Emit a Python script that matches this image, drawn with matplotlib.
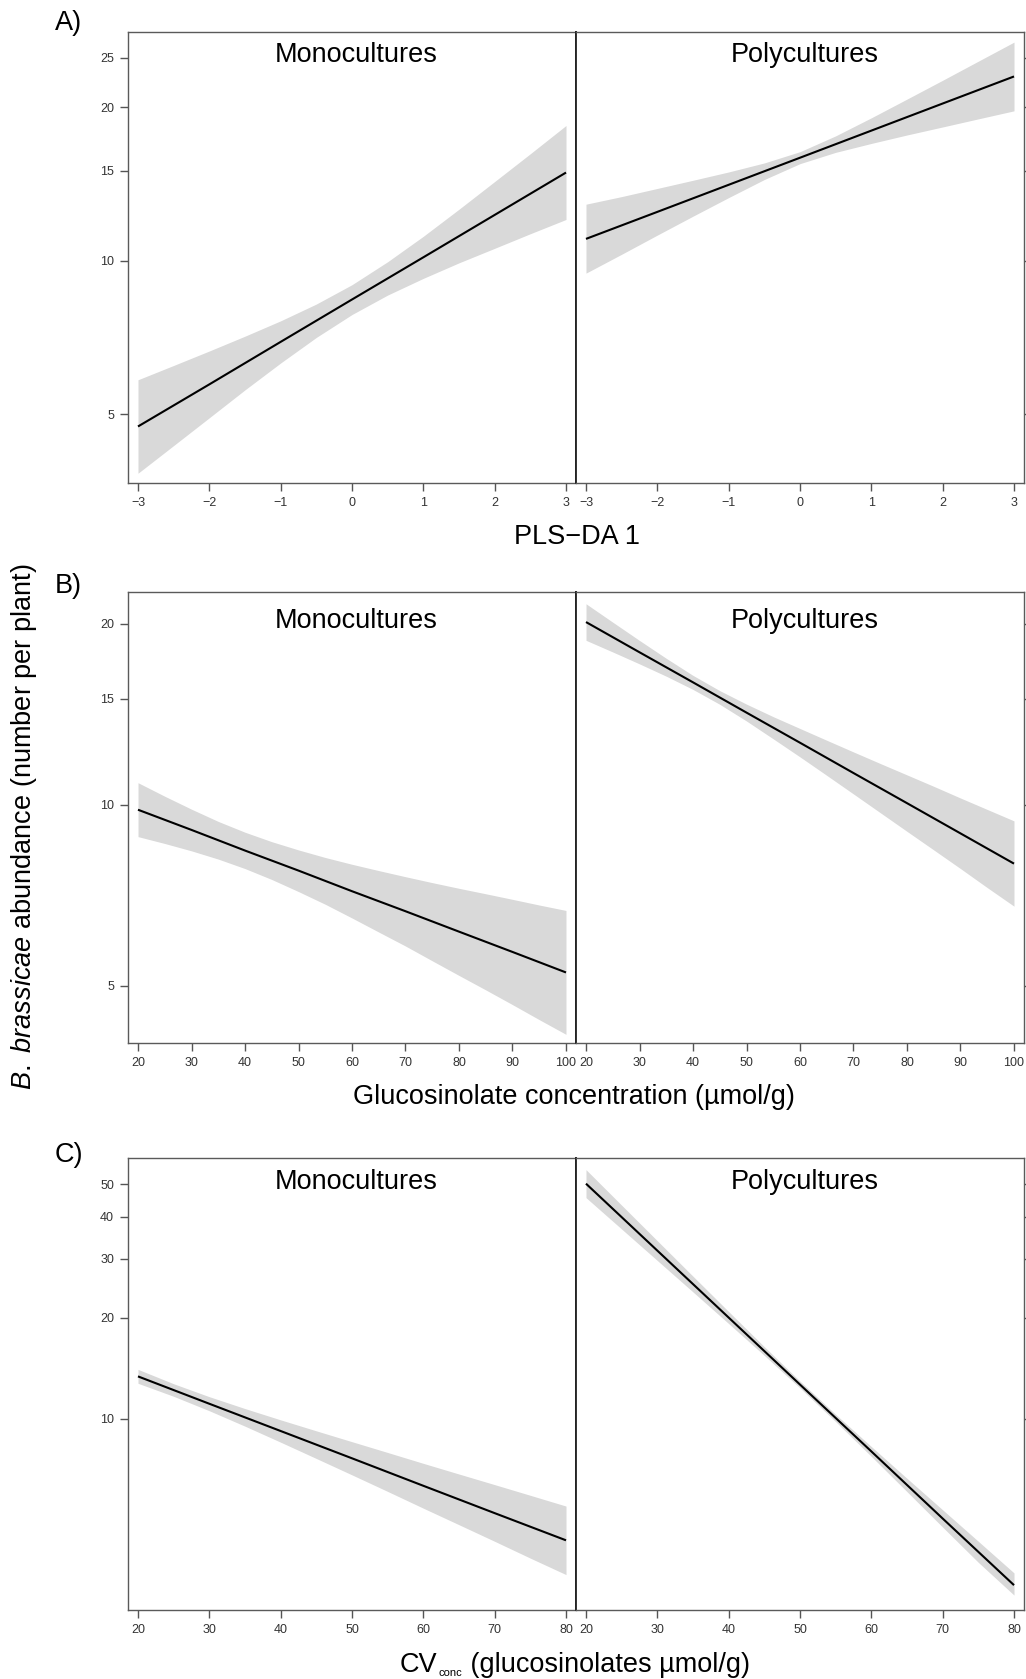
import numpy as np
import matplotlib.pyplot as plt
from matplotlib.ticker import NullLocator

plt.rcParams['font.family'] = ['Liberation Sans', 'DejaVu Sans']
plt.rcParams['mathtext.fontset'] = 'custom'
plt.rcParams['mathtext.rm'] = 'Liberation Sans'
plt.rcParams['mathtext.it'] = 'Liberation Sans:italic'

# predictor values where the fitted lines were read
pls = [-3, -2, -1, 0, 1, 2, 3]
gluc = [20, 30, 40, 50, 60, 70, 80, 90, 100]
cv = [20, 30, 40, 50, 60, 70, 80]
# finer steps for the confidence bands
pls_band = [-3, -2.5, -2, -1.5, -1, -0.5, 0, 0.5, 1, 1.5, 2, 2.5, 3]
gluc_band = [20, 25, 30, 35, 40, 45, 50, 55, 60, 65, 70, 75, 80, 85, 90, 95, 100]
cv_band = [20, 25, 30, 35, 40, 45, 50, 55, 60, 65, 70, 75, 80]

# A) abundance vs PLS-DA 1
a_mono_fit = [4.73, 5.72, 6.93, 8.39, 10.15, 12.29, 14.88]
a_mono_hi = [5.84, 6.23, 6.65, 7.11, 7.62, 8.22, 8.97, 9.95, 11.16, 12.61, 14.29, 16.20, 18.40]
a_mono_lo = [3.83, 4.34, 4.92, 5.58, 6.30, 7.07, 7.84, 8.56, 9.23, 9.90, 10.57, 11.29, 12.04]
a_poly_fit = [11.03, 12.46, 14.08, 15.91, 17.98, 20.32, 22.96]
a_poly_hi = [12.90, 13.35, 13.85, 14.37, 14.92, 15.54, 16.35, 17.56, 19.05, 20.73, 22.57, 24.60, 26.81]
a_poly_lo = [9.45, 10.29, 11.22, 12.22, 13.29, 14.42, 15.49, 16.30, 16.97, 17.63, 18.28, 18.96, 19.66]

# B) abundance vs glucosinolate concentration
b_mono_fit = [9.81, 9.08, 8.39, 7.77, 7.18, 6.65, 6.15, 5.69, 5.26]
b_mono_hi = [10.88, 10.33, 9.83, 9.38, 9.00, 8.68, 8.41, 8.17, 7.96, 7.77, 7.59, 7.42, 7.26,
             7.11, 6.96, 6.81, 6.67]
b_mono_lo = [8.85, 8.62, 8.38, 8.12, 7.83, 7.51, 7.17, 6.83, 6.48, 6.14, 5.82, 5.50, 5.20,
             4.92, 4.65, 4.39, 4.15]
b_poly_fit = [20.13, 17.93, 15.98, 14.23, 12.68, 11.29, 10.06, 8.96, 7.98]
b_poly_hi = [21.59, 20.12, 18.76, 17.52, 16.41, 15.48, 14.70, 14.01, 13.39, 12.80, 12.24,
             11.71, 11.21, 10.73, 10.26, 9.82, 9.40]
b_poly_lo = [18.77, 17.95, 17.15, 16.36, 15.55, 14.69, 13.78, 12.87, 12.01, 11.19, 10.42,
             9.70, 9.03, 8.41, 7.83, 7.28, 6.78]

# C) abundance vs CV of glucosinolate concentration
c_mono_fit = [13.37, 11.08, 9.19, 7.62, 6.31, 5.23, 4.34]
c_mono_hi = [14.03, 12.71, 11.63, 10.72, 9.92, 9.20, 8.54, 7.93, 7.36, 6.84, 6.36, 5.91, 5.49]
c_mono_lo = [12.75, 11.66, 10.56, 9.50, 8.51, 7.61, 6.80, 6.07, 5.41, 4.83, 4.31, 3.84, 3.43]
c_poly_fit = [50.19, 31.70, 20.02, 12.64, 7.99, 5.04, 3.19]
c_poly_hi = [55.26, 43.29, 33.92, 26.59, 20.86, 16.39, 12.94, 10.30, 8.26, 6.64, 5.35, 4.31, 3.47]
c_poly_lo = [45.60, 36.75, 29.62, 23.87, 19.21, 15.44, 12.35, 9.80, 7.72, 6.06, 4.75, 3.73, 2.98]

panels = [
    dict(tag='A)', x=pls, xb=pls_band, xlim=(-3.14, 3.14), ylim=(3.66, 28.1),
         yticks=[5, 10, 15, 20, 25],
         xlabels=[str(v).replace('-', '\u2212') for v in pls],
         mono=(a_mono_fit, a_mono_lo, a_mono_hi),
         poly=(a_poly_fit, a_poly_lo, a_poly_hi), strip_y=0.948),
    dict(tag='B)', x=gluc, xb=gluc_band, xlim=(18.13, 101.87), ylim=(4.01, 22.56),
         yticks=[5, 10, 15, 20], xlabels=[str(v) for v in gluc],
         mono=(b_mono_fit, b_mono_lo, b_mono_hi),
         poly=(b_poly_fit, b_poly_lo, b_poly_hi), strip_y=0.936),
    dict(tag='C)', x=cv, xb=cv_band, xlim=(18.6, 81.4), ylim=(2.69, 59.9),
         yticks=[10, 20, 30, 40, 50], xlabels=[str(v) for v in cv],
         mono=(c_mono_fit, c_mono_lo, c_mono_hi),
         poly=(c_poly_fit, c_poly_lo, c_poly_hi), strip_y=0.947),
]

W, H = 1026, 1679
fig = plt.figure(figsize=(W / 100, H / 100), dpi=100)

left, mid, right = 128 / W, 576 / W, 1024 / W
rows = [(31.7, 483.3), (592.3, 1043.3), (1157.9, 1610.0)]
tag_y = [23, 586, 1155]

frame_col = '#5a5a5a'
tick_col = '#555555'
lab_col = '#333333'

for p, (top, bot), ty in zip(panels, rows, tag_y):
    y0 = 1 - bot / H
    h = (bot - top) / H
    ax1 = fig.add_axes([left, y0, mid - left, h])
    ax2 = fig.add_axes([mid, y0, right - mid, h])
    for ax, key, name in [(ax1, 'mono', 'Monocultures'), (ax2, 'poly', 'Polycultures')]:
        fit, lo, hi = p[key]
        ax.fill_between(p['xb'], lo, hi, color='#d9d9d9', linewidth=0)
        ax.plot(p['x'], fit, color='black', lw=1.5, solid_capstyle='butt')
        ax.set_yscale('log')
        ax.set_xlim(*p['xlim'])
        ax.set_ylim(*p['ylim'])
        ax.set_xticks(p['x'], p['xlabels'])
        ax.set_yticks(p['yticks'], [str(v) for v in p['yticks']])
        ax.yaxis.set_minor_locator(NullLocator())
        ax.tick_params(direction='out', length=6, width=1, colors=tick_col,
                       labelcolor=lab_col, labelsize=9, pad=4)
        for s in ax.spines.values():
            s.set_color(frame_col)
            s.set_linewidth(1.0)
        ax.text(0.51, p['strip_y'], name, transform=ax.transAxes,
                ha='center', va='center', fontsize=19.5, color='black')
    ax1.spines['right'].set_color('#222222')
    ax1.spines['right'].set_linewidth(1.3)
    ax2.spines['left'].set_color('#222222')
    ax2.spines['left'].set_linewidth(1.3)
    ax2.tick_params(axis='y', left=False, labelleft=False, right=True, labelright=False)
    fig.text(55 / W, 1 - ty / H, p['tag'], ha='left', va='center', fontsize=19.5)

# x axis titles
fig.text(577 / W, 1 - 537 / H, 'PLS\u2212DA 1', ha='center', va='center', fontsize=19.5)
fig.text(574 / W, 1 - 1097 / H, 'Glucosinolate concentration (\u00b5mol/g)',
         ha='center', va='center', fontsize=19.5)

# CV label built from pieces so the subscript stays small
renderer = fig.canvas.get_renderer()
base = 1 - 1671.5 / H
parts = [('CV', 19.5, 0.0), ('conc', 8.0, -5.0), (' (glucosinolates \u00b5mol/g)', 19.5, 0.0)]
texts = []
widths = []
for s, fs, dy in parts:
    t = fig.text(0, base + dy / H, s, fontsize=fs, ha='left', va='baseline')
    texts.append(t)
    widths.append(t.get_window_extent(renderer).width)
total = sum(widths) + 2
x = 575 - total / 2
for t, w in zip(texts, widths):
    t.set_x(x / W)
    x += w + 1

fig.text(24 / W, 1 - 827 / H, r'$\it{B.\ brassicae}$ abundance (number per plant)',
         rotation=90, ha='center', va='center', fontsize=19.5)

fig.savefig('out.png', dpi=100)
